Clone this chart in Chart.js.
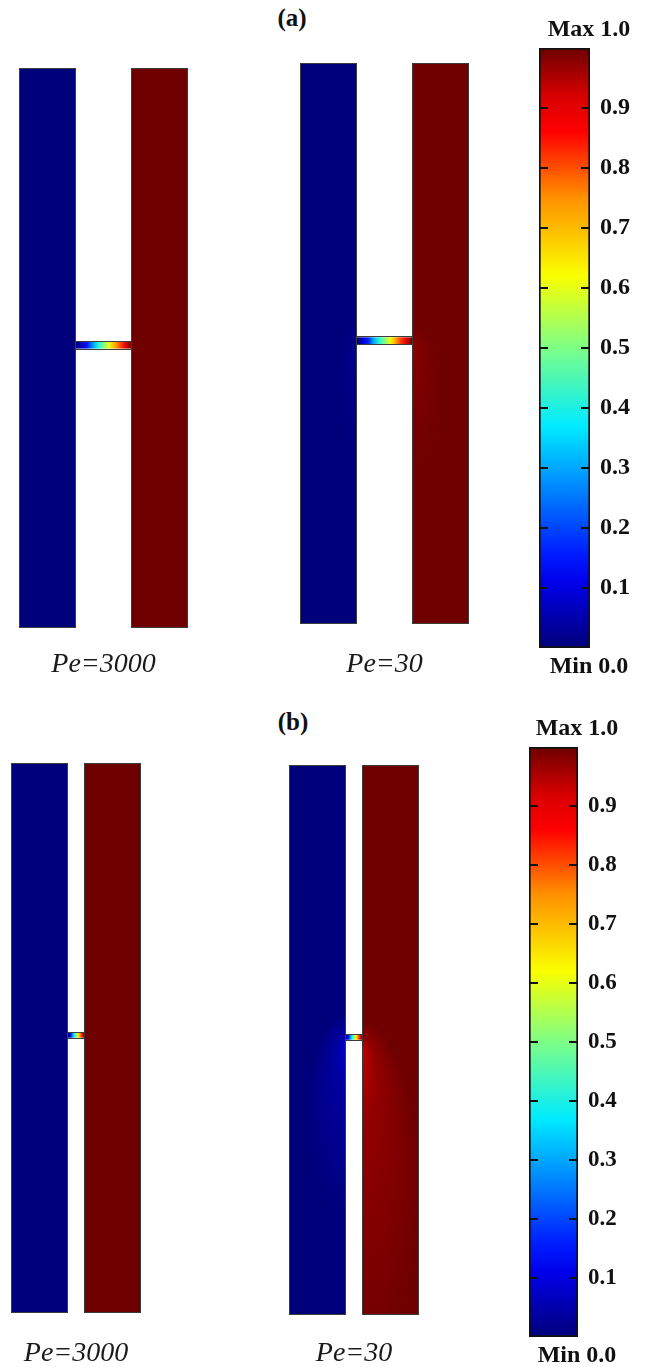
<!DOCTYPE html>
<html>
<head>
<meta charset="utf-8">
<script src="https://cdn.jsdelivr.net/npm/chart.js@4.4.1/dist/chart.umd.min.js"></script>
<style>
  html, body { margin: 0; padding: 0; background: #ffffff; }
  body { width: 645px; height: 1367px; position: relative; overflow: hidden; }
  canvas { position: absolute; }
  .panel-tag {
    position: absolute; transform: translate(-50%, -50%);
    font: bold 25px 'Liberation Serif', 'Times New Roman', serif; color: #111;
    white-space: nowrap;
  }
</style>
</head>
<body>
<div class="panel-tag" style="left:292px; top:18px">(a)</div>
<div class="panel-tag" style="left:293px; top:722px">(b)</div>

<canvas id="a0"></canvas>
<canvas id="a1"></canvas>
<canvas id="aBar"></canvas>
<canvas id="b0"></canvas>
<canvas id="b1"></canvas>
<canvas id="bBar"></canvas>

<script>
// ---------------- data ----------------
// Two simulated cases per panel
const caseLabels = ['Pe=3000', 'Pe=30'];

// Normalised concentration carried by the two parallel channels
const channelNames = ['left channel', 'right channel'];
const channelConc = [0.0, 1.0];

// Concentration sampled along the connecting micro-channel (left end -> right end)
const microStations   = [0.0, 0.1, 0.2, 0.3, 0.4, 0.5, 0.6, 0.7, 0.8, 0.9, 1.0];
const microConcPe3000 = [0.0, 0.06, 0.14, 0.28, 0.40, 0.50, 0.60, 0.71, 0.80, 0.90, 1.0];
const microConcPe30   = [0.0, 0.07, 0.16, 0.30, 0.41, 0.50, 0.61, 0.72, 0.82, 0.91, 1.0];

// Diffusive plumes around the micro-channel ends at low Pe
// [conc at source, lateral spread, spread upstream, spread downstream] (channel widths)
const plumeA_Pe30 = [[0.03, 0.45, 0.4, 2.2], [0.97, 0.55, 0.3, 2.4]];
const plumeB_Pe30 = [[0.08, 0.7, 0.45, 3.4], [0.94, 1.0, 0.3, 6.0]];

// Geometry (in channel widths): channel length, micro-channel gap, position and width
const channelLength = 10.0;
const gapA = 0.97;
const gapB = 0.30;
const microCentre = 5.05;
const microWidthA = 0.12;
const microWidthB = 0.09;

// Colour bar
const colorbarTicks  = [0.1, 0.2, 0.3, 0.4, 0.5, 0.6, 0.7, 0.8, 0.9];
const colorbarLabels = ['0.1', '0.2', '0.3', '0.4', '0.5', '0.6', '0.7', '0.8', '0.9'];
const colorbarRange  = [0.0, 1.0];
const colorbarTitle  = 'Max 1.0';
const colorbarFoot   = 'Min 0.0';

// ---------------- colour map ----------------
const JET = [
  [0.00,   0,   0, 122],
  [0.11,   0,   0, 235],
  [0.16,   0,  30, 255],
  [0.37,   0, 235, 255],
  [0.50, 125, 255, 135],
  [0.62, 250, 255,   0],
  [0.75, 255, 145,   0],
  [0.86, 255,   0,   0],
  [0.92, 215,   0,   0],
  [1.00, 110,   0,   0]
];
function jetRGB(v) {
  v = Math.max(0, Math.min(1, v));
  for (let i = 1; i < JET.length; i++) {
    if (v <= JET[i][0]) {
      const a = JET[i - 1], b = JET[i];
      const t = (v - a[0]) / (b[0] - a[0]);
      return [0, 1, 2].map(k => Math.round(a[k + 1] + (b[k + 1] - a[k + 1]) * t));
    }
  }
  return JET[JET.length - 1].slice(1);
}
const jet = (v, alpha = 1) => { const c = jetRGB(v); return `rgba(${c[0]},${c[1]},${c[2]},${alpha})`; };

Chart.defaults.font.family = "'Liberation Serif', 'Times New Roman', serif";
Chart.defaults.color = '#111';

// ---------------- channel drawing ----------------
const channelPlugin = {
  id: 'channels',
  afterDraw(chart, _args, o) {
    const { ctx } = chart;
    const xs = chart.scales.x, ys = chart.scales.y;
    const px = v => xs.getPixelForValue(v), py = v => ys.getPixelForValue(v);
    const w = 1.0, gap = o.gap;
    const spans = [[0, w], [w + gap, 2 * w + gap]];
    const junctionX = [w, w + gap];

    spans.forEach((s, i) => {
      const l = px(s[0]), r = px(s[1]), t = py(channelLength), b = py(0);
      ctx.save();
      ctx.beginPath();
      ctx.rect(l, t, r - l, b - t);
      ctx.fillStyle = jet(channelConc[i]);
      ctx.fill();
      ctx.clip();
      const pl = o.plumes && o.plumes[i];
      if (pl) {
        const [conc, lat, up, down] = pl;
        const jx = px(junctionX[i]), jy = py(microCentre);
        const cyVal = microCentre - (down - up) / 2;
        const cx = jx, cy = py(cyVal);
        const rx = Math.abs(px(lat) - px(0));
        const ry = Math.abs(py(0) - py((down + up) / 2));
        ctx.translate(cx, cy);
        ctx.scale(rx, ry);
        const fy = (jy - cy) / ry;
        const g = ctx.createRadialGradient(0, fy * 0.95, 0, 0, 0, 1);
        g.addColorStop(0, jet(conc, 1));
        g.addColorStop(0.25, jet(conc, 0.45));
        g.addColorStop(1, jet(conc, 0));
        ctx.fillStyle = g;
        ctx.fillRect(-1, -1, 2, 2);
      }
      ctx.restore();
    });

    // micro-channel with its concentration profile
    const ml = px(w), mr = px(w + gap);
    const mt = py(microCentre + o.microWidth / 2), mb = py(microCentre - o.microWidth / 2);
    const grad = ctx.createLinearGradient(ml, 0, mr, 0);
    microStations.forEach((s, k) => grad.addColorStop(s, jet(o.micro[k])));
    ctx.save();
    ctx.fillStyle = grad;
    ctx.fillRect(ml - 0.5, mt, mr - ml + 1, mb - mt);

    // outlines
    ctx.strokeStyle = '#3c3c3c';
    ctx.lineWidth = 1;
    spans.forEach(s => {
      const l = px(s[0]), r = px(s[1]), t = py(channelLength), b = py(0);
      ctx.strokeRect(Math.round(l) + 0.5, Math.round(t) + 0.5, Math.round(r - l) - 1, Math.round(b - t) - 1);
    });
    ctx.beginPath();
    ctx.moveTo(ml, Math.round(mt) - 0.5); ctx.lineTo(mr, Math.round(mt) - 0.5);
    ctx.moveTo(ml, Math.round(mb) + 0.5); ctx.lineTo(mr, Math.round(mb) + 0.5);
    ctx.stroke();
    ctx.restore();
  }
};

// box = geometry extent in page pixels, labelY = centre of the case label
function caseChart(id, box, label, gap, microWidth, micro, plumes, labelY) {
  const cv = document.getElementById(id);
  const pad = 2, fs = 28;
  const left = box.x - pad, top = box.y - pad;
  const height = Math.round(labelY + fs / 2 + 3 - top);
  cv.style.left = left + 'px'; cv.style.top = top + 'px';
  cv.width = box.w + 2 * pad; cv.height = height;
  const padTop = labelY - fs / 2 - (box.y + box.h);
  return new Chart(cv, {
    type: 'scatter',
    data: { datasets: [] },
    options: {
      responsive: false, animation: false, events: [],
      layout: { padding: { left: pad, right: pad, top: pad, bottom: 0 } },
      scales: {
        x: { type: 'linear', display: false, min: 0, max: 2 + gap },
        y: { type: 'linear', display: false, min: 0, max: channelLength }
      },
      plugins: {
        legend: { display: false }, tooltip: { enabled: false },
        title: {
          display: true, position: 'bottom', text: label, color: '#1a1a1a',
          font: { size: fs, style: 'italic', weight: 'normal', lineHeight: 1 },
          padding: { top: padTop, bottom: 3 }
        },
        channels: { gap, microWidth, micro, plumes }
      }
    },
    plugins: [channelPlugin]
  });
}

// tick marks drawn inside both edges of the colour bar
const barTickPlugin = {
  id: 'barTicks',
  afterDatasetsDraw(chart) {
    const { ctx, chartArea: a } = chart;
    const ys = chart.scales.y;
    ctx.save();
    ctx.strokeStyle = '#111';
    ctx.lineWidth = 2;
    colorbarTicks.forEach(v => {
      const y = Math.round(ys.getPixelForValue(v));
      ctx.beginPath();
      ctx.moveTo(a.left, y); ctx.lineTo(a.left + 9, y);
      ctx.moveTo(a.right - 9, y); ctx.lineTo(a.right, y);
      ctx.stroke();
    });
    ctx.restore();
  }
};

function colorbarChart(id, bar, titleCentre, tickSize) {
  const cv = document.getElementById(id);
  const padLeft = 20, titleBox = 32, footBox = 31;
  const left = bar.x - padLeft;
  const width = Math.round(2 * (titleCentre - left));
  const axisW = width - padLeft - bar.w;
  cv.style.left = left + 'px'; cv.style.top = (bar.y - titleBox) + 'px';
  cv.width = width; cv.height = titleBox + bar.h + footBox;
  return new Chart(cv, {
    type: 'bar',
    data: {
      labels: ['c'],
      datasets: [{
        data: [colorbarRange.slice()],
        backgroundColor(c) {
          const ch = c.chart;
          if (!ch.chartArea) return jet(0.5);
          const ys = ch.scales.y;
          const g = ch.ctx.createLinearGradient(0, ys.getPixelForValue(0), 0, ys.getPixelForValue(1));
          JET.forEach(s => g.addColorStop(s[0], jet(s[0])));
          return g;
        },
        borderColor: '#111', borderWidth: 2, borderSkipped: false,
        barPercentage: 1, categoryPercentage: 1
      }]
    },
    options: {
      responsive: false, animation: false, events: [],
      layout: { padding: { left: padLeft, right: 0, top: 0, bottom: 0 } },
      scales: {
        x: { display: false },
        y: {
          position: 'right', min: colorbarRange[0], max: colorbarRange[1],
          grid: { display: false, drawTicks: false }, border: { display: false },
          afterBuildTicks(s) { s.ticks = colorbarTicks.map(v => ({ value: v })); },
          afterFit(s) { s.width = axisW; },
          ticks: {
            autoSkip: false, padding: 10, color: '#111',
            font: { size: tickSize, weight: 'bold' },
            callback: (v, i) => colorbarLabels[i]
          }
        }
      },
      plugins: {
        legend: { display: false }, tooltip: { enabled: false },
        title: {
          display: true, position: 'top', text: colorbarTitle, color: '#111',
          font: { size: 24, weight: 'bold', lineHeight: 1 }, padding: { top: 2, bottom: 6 }
        },
        subtitle: {
          display: true, position: 'bottom', text: colorbarFoot, color: '#111',
          font: { size: 24, weight: 'bold', lineHeight: 1 }, padding: { top: 7, bottom: 0 }
        }
      }
    },
    plugins: [barTickPlugin]
  });
}

// ---------------- panel (a) ----------------
caseChart('a0', { x: 19, y: 68, w: 169, h: 560 }, caseLabels[0], gapA, microWidthA, microConcPe3000, null, 665);
caseChart('a1', { x: 300, y: 63, w: 169, h: 561 }, caseLabels[1], gapA, microWidthA, microConcPe30, plumeA_Pe30, 665);
colorbarChart('aBar', { x: 539, y: 48, w: 51, h: 600 }, 579, 24);

// ---------------- panel (b) ----------------
caseChart('b0', { x: 11, y: 763, w: 130, h: 550 }, caseLabels[0], gapB, microWidthB, microConcPe3000, null, 1354);
caseChart('b1', { x: 289, y: 765, w: 130, h: 550 }, caseLabels[1], gapB, microWidthB, microConcPe30, plumeB_Pe30, 1354);
colorbarChart('bBar', { x: 529, y: 747, w: 49, h: 590 }, 567, 23);
</script>
</body>
</html>
